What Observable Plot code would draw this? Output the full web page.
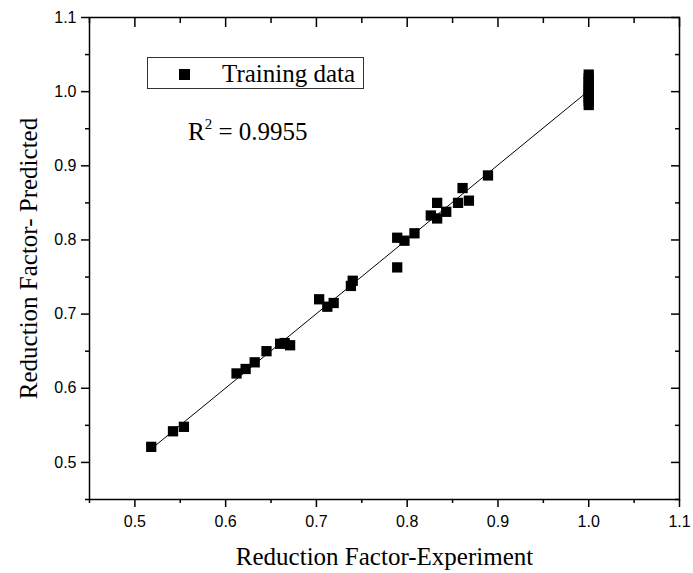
<!DOCTYPE html>
<html>
<head>
<meta charset="utf-8">
<script src="https://cdn.jsdelivr.net/npm/d3@7"></script>
<script src="https://cdn.jsdelivr.net/npm/@observablehq/plot@0.6"></script>
<style>
  html, body { margin: 0; padding: 0; background: #fff; }
  #wrap { position: relative; width: 693px; height: 573px; }
  #wrap svg [aria-label="x-axis label"], #wrap svg [aria-label="y-axis label"] {
    font-family: "Liberation Serif", "Times New Roman", serif; font-size: 25px;
  }
  .legend { position: absolute; left: 147px; top: 57px; width: 217px; height: 32px;
    border: 1px solid #333; box-sizing: border-box; }
  .legend .sq { position: absolute; left: 31px; top: 11px; width: 11px; height: 11px; background: #000; }
  .legend .lab { position: absolute; left: 74px; top: 3px; font: 25px/25px "Liberation Serif", serif; white-space: nowrap; }
  .r2 { position: absolute; left: 188px; top: 119px; font: 25px/25px "Liberation Serif", serif; white-space: nowrap; }
  .r2 sup { font-size: 15px; vertical-align: 0; position: relative; top: -11px; }
</style>
</head>
<body>
<div id="wrap"></div>
<script>
// Reduction Factor - Experiment (x) vs Predicted (y)
const experiment = [0.518, 0.542, 0.554, 0.612, 0.622, 0.632, 0.645, 0.660, 0.665, 0.671,
  0.703, 0.712, 0.719, 0.738, 0.740, 0.789, 0.789, 0.797, 0.808, 0.826,
  0.833, 0.833, 0.843, 0.856, 0.861, 0.868, 0.889,
  1.0, 1.0, 1.0, 1.0, 1.0, 1.0, 1.0, 1.0, 1.0, 1.0];
const predicted = [0.521, 0.542, 0.548, 0.620, 0.626, 0.635, 0.650, 0.660, 0.661, 0.658,
  0.720, 0.710, 0.715, 0.738, 0.745, 0.763, 0.803, 0.799, 0.809, 0.833,
  0.850, 0.829, 0.838, 0.850, 0.870, 0.853, 0.887,
  0.982, 0.987, 0.992, 0.996, 1.000, 1.004, 1.008, 1.013, 1.018, 1.023];
const majorTicks = [0.5, 0.6, 0.7, 0.8, 0.9, 1.0, 1.1];
const minorTicks = [0.45, 0.55, 0.65, 0.75, 0.85, 0.95, 1.05];
const xTitle = "Reduction Factor-Experiment";
const yTitle = "Reduction Factor- Predicted";
const legendLabel = "Training data";
const r2Value = "0.9955";

const data = experiment.map((x, i) => ({x, y: predicted[i]}));
const fmt = d3.format(".1f");
const none = () => "";

const chart = Plot.plot({
  width: 693,
  height: 573,
  marginTop: 17,
  marginRight: 14,
  marginBottom: 74,
  marginLeft: 89,
  style: {fontFamily: "'Liberation Sans', Arial, sans-serif", fontSize: "16px", color: "#000", background: "#fff"},
  x: {domain: [0.45, 1.1]},
  y: {domain: [0.45, 1.1]},
  marks: [
    Plot.linearRegressionY(data, {x: "x", y: "y", ci: 0, stroke: "#000", strokeWidth: 1}),
    Plot.dot(data, {x: "x", y: "y", symbol: "square", r: 5.8, fill: "#000", stroke: "none"}),
    // bottom axis
    Plot.axisX({anchor: "bottom", ticks: majorTicks, tickSize: 8, tickPadding: 8, tickFormat: fmt, fontSize: 16, strokeWidth: 1.5,
      label: xTitle, labelAnchor: "center", labelOffset: 65, labelArrow: "none"}),
    Plot.axisX({anchor: "bottom", ticks: minorTicks, tickSize: 4, tickFormat: none, strokeWidth: 1.5, label: null}),
    // top axis (inward ticks)
    Plot.axisX({anchor: "top", ticks: majorTicks, tickSize: -9, tickFormat: none, strokeWidth: 1.5, label: null}),
    Plot.axisX({anchor: "top", ticks: minorTicks, tickSize: -5, tickFormat: none, strokeWidth: 1.5, label: null}),
    // left axis
    Plot.axisY({anchor: "left", ticks: majorTicks, tickSize: 8, tickPadding: 5, tickFormat: fmt, fontSize: 16, strokeWidth: 1.5,
      label: yTitle, labelAnchor: "center", labelOffset: 70, labelArrow: "none"}),
    Plot.axisY({anchor: "left", ticks: minorTicks, tickSize: 4, tickFormat: none, strokeWidth: 1.5, label: null}),
    // right axis (inward ticks)
    Plot.axisY({anchor: "right", ticks: majorTicks, tickSize: -9, tickFormat: none, strokeWidth: 1.5, label: null}),
    Plot.axisY({anchor: "right", ticks: minorTicks, tickSize: -5, tickFormat: none, strokeWidth: 1.5, label: null}),
    Plot.frame({stroke: "#000", strokeWidth: 1.5})
  ]
});

const wrap = document.getElementById("wrap");
wrap.appendChild(chart);

const legend = document.createElement("div");
legend.className = "legend";
legend.innerHTML = `<div class="sq"></div><div class="lab">${legendLabel}</div>`;
wrap.appendChild(legend);

const r2 = document.createElement("div");
r2.className = "r2";
r2.innerHTML = `R<sup>2</sup> = ${r2Value}`;
wrap.appendChild(r2);
</script>
</body>
</html>
